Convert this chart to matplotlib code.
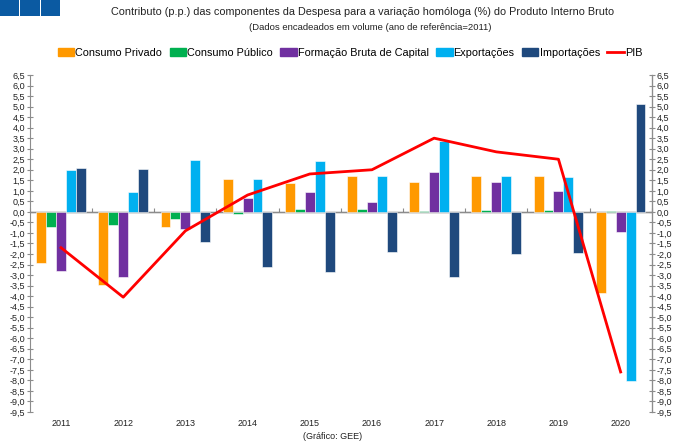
import numpy as np
import matplotlib
matplotlib.use("Agg")
import matplotlib.pyplot as plt
from matplotlib.patches import Rectangle, Patch
from matplotlib.lines import Line2D
from matplotlib.ticker import FuncFormatter

plt.rcParams['font.family'] = ['Liberation Sans', 'DejaVu Sans']

#------------------------- DATA -------------------------
anos = ['2011', '2012', '2013', '2014', '2015', '2016', '2017', '2018', '2019', '2020']

consumo_privado = [-2.45, -3.45, -0.7, 1.55, 1.35, 1.7, 1.4, 1.7, 1.7, -3.85]
consumo_publico = [-0.7, -0.6, -0.35, -0.1, 0.15, 0.15, 0.05, 0.1, 0.1, 0.05]
fbcf = [-2.8, -3.1, -0.8, 0.65, 0.95, 0.45, 1.9, 1.4, 1.0, -0.95]
exportacoes = [2.0, 0.95, 2.45, 1.55, 2.4, 1.7, 3.35, 1.7, 1.65, -8.05]
importacoes = [2.1, 2.05, -1.45, -2.6, -2.85, -1.9, -3.1, -2.0, -1.95, 5.1]
pib = [-1.7, -4.05, -0.9, 0.8, 1.8, 2.0, 3.5, 2.85, 2.5, -7.6]

series = [consumo_privado, consumo_publico, fbcf, exportacoes, importacoes]
nomes = ['Consumo Privado', 'Consumo Público', 'Formação Bruta de Capital',
         'Exportações', 'Importações']
cores = ['#FF9900', '#00B050', '#7030A0', '#00B0F0', '#1F497D']
cinza = '#8C8C8C'

#------------------------- FIGURE -------------------------
fig = plt.figure(figsize=(6.81, 4.45), dpi=100)
ax = fig.add_axes([0.044, 0.0742, 0.913, 0.7573])

x = np.arange(len(anos))
w = 0.16
for k, (vals, cor) in enumerate(zip(series, cores)):
    ax.bar(x + (k - 2) * w, vals, width=w, color=cor, edgecolor='white',
           linewidth=0.4, zorder=3)

ax.plot(x, pib, color='#FF0000', lw=2, zorder=4)

ymin, ymax = -9.5, 6.5
ax.set_ylim(ymin, ymax)
ax.set_xlim(-0.5, len(anos) - 0.5)

fmt = FuncFormatter(lambda v, p: ('%.1f' % v).replace('.', ','))
yt = np.arange(ymin, ymax + 0.01, 0.5)
ax.set_yticks(yt)
ax.yaxis.set_major_formatter(fmt)
ax.tick_params(axis='y', labelsize=6.5, direction='inout', length=5,
               color=cinza, labelcolor='#222222', pad=1)

ax.set_xticks(x)
ax.set_xticklabels(anos)
ax.tick_params(axis='x', length=0, labelsize=6.5, pad=5, labelcolor='#222222')

for s in ['top', 'bottom']:
    ax.spines[s].set_visible(False)
ax.spines['left'].set_color(cinza)

# right axis
ax2 = ax.twinx()
ax2.set_ylim(ymin, ymax)
ax2.set_yticks(yt)
ax2.yaxis.set_major_formatter(fmt)
ax2.tick_params(axis='y', labelsize=6.5, direction='inout', length=5,
                color=cinza, labelcolor='#222222', pad=1)
for s in ['top', 'bottom', 'left']:
    ax2.spines[s].set_visible(False)
ax2.spines['right'].set_color(cinza)

# zero line with category separators
ax.axhline(0, color=cinza, lw=1.0, zorder=2)
zero_frac = (0 - ymin) / (ymax - ymin)
sec = ax.secondary_xaxis(zero_frac)
sec.set_xticks(np.arange(-0.5, len(anos), 1.0))
sec.set_xticklabels([])
sec.tick_params(direction='out', length=3, color=cinza, width=0.8)
sec.spines['bottom'].set_visible(False)

# legend
handles = [Patch(color=c) for c in cores] + [Line2D([], [], color='#FF0000', lw=2)]
fig.legend(handles, nomes + ['PIB'], loc='center', bbox_to_anchor=(0.514, 0.881),
           ncol=6, frameon=False, fontsize=7.8, handlelength=1.5, handleheight=0.8,
           handletextpad=0.1, columnspacing=0.7)

# titles
fig.text(0.533, 0.973, 'Contributo (p.p.) das componentes da Despesa para a variação homóloga (%) do Produto Interno Bruto',
         ha='center', va='center', fontsize=7.8, color='#222222')
fig.text(0.543, 0.939, '(Dados encadeados em volume (ano de referência=2011)',
         ha='center', va='center', fontsize=6.8, color='#222222')
fig.text(0.489, 0.018, '(Gráfico: GEE)', ha='center', va='center', fontsize=6.5,
         color='#222222')

# blue squares
for i in range(3):
    fig.add_artist(Rectangle((i * 20.3 / 681, 1 - 16.3 / 445), 19.3 / 681, 16.3 / 445,
                             transform=fig.transFigure, facecolor='#0B5AA2', lw=0))

fig.savefig('out.png', dpi=100)
